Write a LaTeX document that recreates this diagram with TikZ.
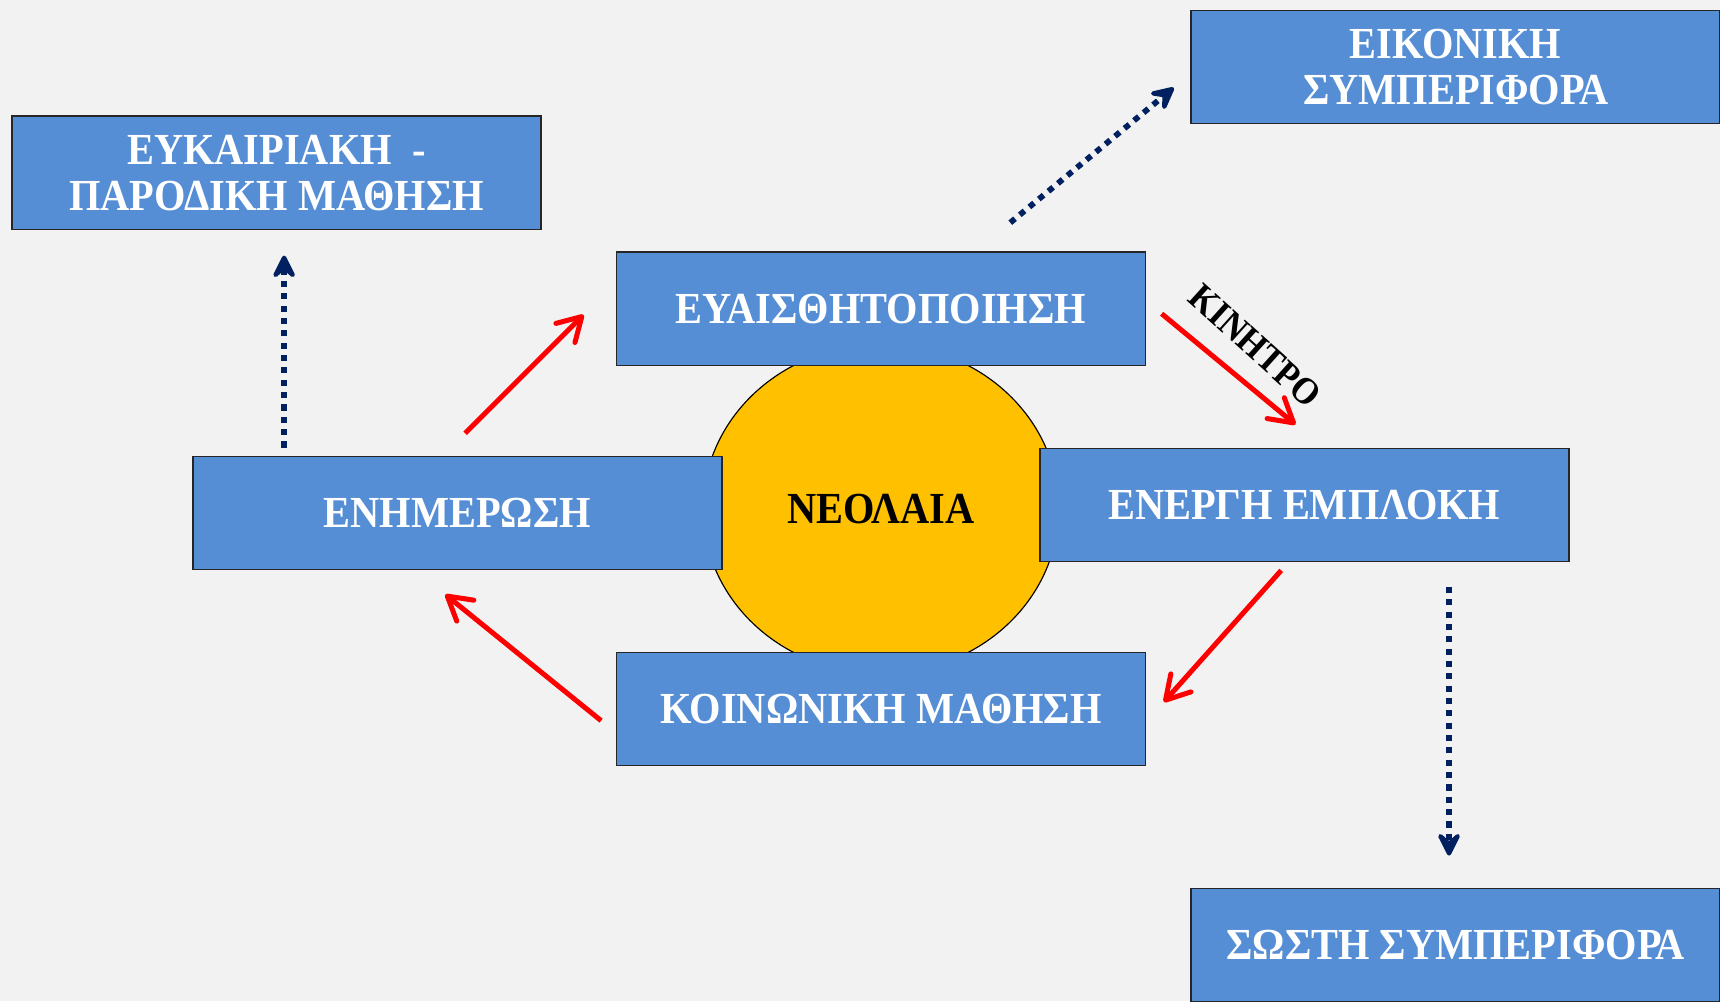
\documentclass[tikz,border=0pt]{standalone}
\usepackage{fontspec}
\setmainfont[FakeStretch=0.91]{Liberation Serif}
\usetikzlibrary{arrows.meta,shapes.geometric}
\definecolor{boxblue}{HTML}{558ED5}
\definecolor{sunyellow}{HTML}{FFC000}
\definecolor{navy}{HTML}{002060}
\definecolor{slidegray}{HTML}{F2F2F2}
\def\stages{{(252,157.5)/kairiaki/{ΕΥΚΑΙΡΙΑΚΗ\ \ -\\ΠΑΡΟΔΙΚΗ ΜΑΘΗΣΗ}}, {(1327,61)/eikoniki/{ΕΙΚΟΝΙΚΗ\\ΣΥΜΠΕΡΙΦΟΡΑ}}, {(803,281.5)/euais/{ΕΥΑΙΣΘΗΤΟΠΟΙΗΣΗ}}, {(417,467.5)/enim/{ΕΝΗΜΕΡΩΣΗ}}, {(1189,460.5)/energ/{ΕΝΕΡΓΗ ΕΜΠΛΟΚΗ}}, {(803,646.5)/koin/{ΚΟΙΝΩΝΙΚΗ ΜΑΘΗΣΗ}}, {(1327,861.5)/sosti/{ΣΩΣΤΗ ΣΥΜΠΕΡΙΦΟΡΑ}}}
\def\ends{{(424,395)/enim-out}, {(532,287)/euais-in}, {(1059,286)/euais-out}, {(1181,387)/energ-in}, {(1168,520)/energ-out}, {(1061,640)/koin-in}, {(548,657)/koin-out}, {(406,542)/enim-in}, {(259,408)/enim-up}, {(259,233)/kairiaki-in}, {(921,203)/euais-up}, {(1070,80)/eikoniki-in}, {(1321,535)/energ-down}, {(1321,780)/sosti-in}}
\def\cycle{enim-out/euais-in, euais-out/energ-in, energ-out/koin-in, koin-out/enim-in}
\def\outcomes{enim-up/kairiaki-in, euais-up/eikoniki-in, energ-down/sosti-in}
\tikzstyle{stage}=[rectangle, draw=black!85, line width=0.4pt, fill=boxblue, text=white, font=\fontsize{11.5}{12}\selectfont\bfseries, minimum width=4.82cm, minimum height=1.03cm, inner sep=0pt, align=center]
\tikzstyle{core}=[ellipse, draw=black, line width=0.3pt, fill=sunyellow, minimum width=3.24cm, minimum height=3.0cm, inner sep=0pt, font=\fontsize{11.5}{12}\selectfont\bfseries]
\tikzstyle{cycle edge}=[draw, red, line width=1.3pt, -{Straight Barb[length=6pt,width=7pt,round]}]
\tikzstyle{outcome edge}=[draw, navy, line width=1.5pt, dash pattern=on 1.6pt off 1.6pt, -{Stealth[length=8pt,width=8pt,inset=3.5pt,round]}]

\begin{document}
\begin{tikzpicture}[x=0.01cm, y=-0.01cm]
  \fill[slidegray] (0,0) rectangle (1568,913);
  \useasboundingbox (0,0) rectangle (1568,913);

  % The youth in the middle
  \node[core] (neo) at (803,464) {ΝΕΟΛΑΙΑ};

  % The stages round it and the outcomes
  \foreach \pos/\name/\label in \stages {
    \node[stage] (\name) at \pos {\label};
  }

  % Free ends of the arrows
  \foreach \pos/\name in \ends
    \path \pos coordinate (\name);

  % The cycle
  \foreach \source/\dest in \cycle
    \path[cycle edge] (\source) -- (\dest);

  \node[font=\fontsize{9.8}{12}\selectfont\bfseries, rotate=-42] (kinitro) at (1144,315) {ΚΙΝΗΤΡΟ};

  % The outcomes
  \foreach \source/\dest in \outcomes
    \path[outcome edge] (\source) -- (\dest);

\end{tikzpicture}
\end{document}
